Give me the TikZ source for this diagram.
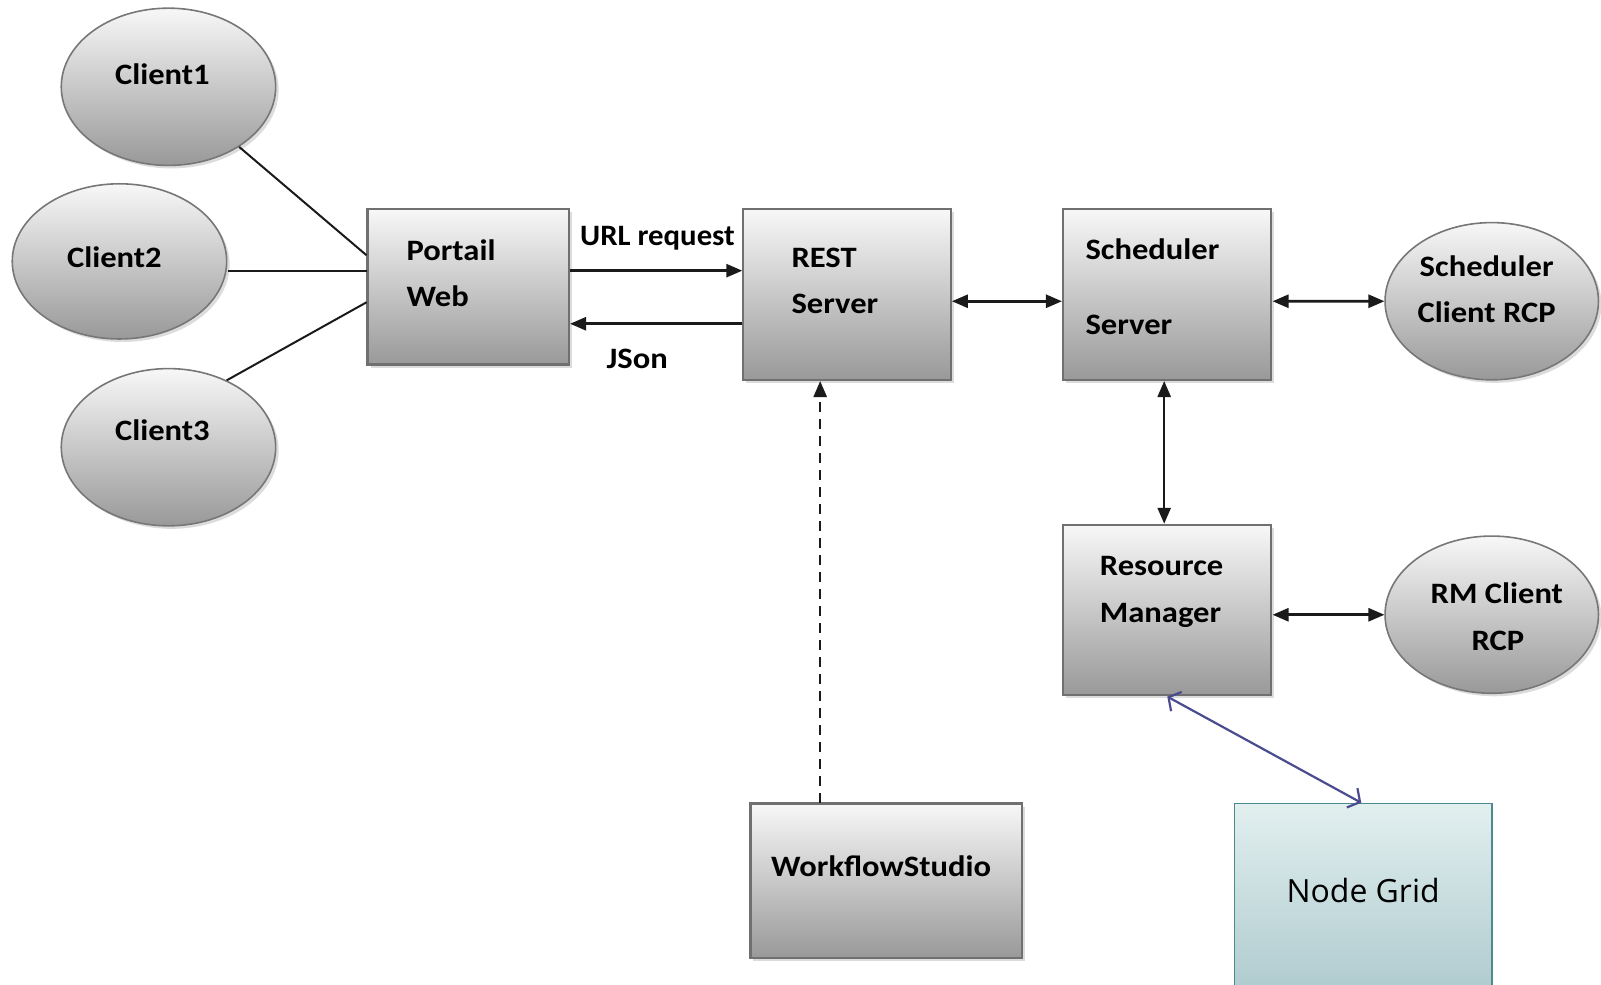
\documentclass[tikz,border=0pt]{standalone}
\usepackage{fontspec}
\setmainfont[FakeStretch=1.1]{Carlito}
\newfontfamily\urlfont[FakeStretch=1.04]{Carlito}
\newfontfamily\ngfont{Open Sans}
\usetikzlibrary{shapes.geometric,arrows.meta,shadows}
\definecolor{boxline}{HTML}{707070}
\definecolor{ellline}{HTML}{777777}
\definecolor{linecol}{HTML}{1A1A1A}
\definecolor{gridline}{HTML}{4A8A90}
\definecolor{gridtop}{HTML}{E2EFEF}
\definecolor{gridbot}{HTML}{A8C6CA}
\definecolor{bluecol}{HTML}{4B4B8F}
\begin{document}
\begin{tikzpicture}[x=1pt,y=-1pt,scale=1.02105,every node/.style={transform shape},
  shade3d/.style={top color=white!97!black, bottom color=black!40,
    drop shadow={opacity=0.28, shadow xshift=3pt, shadow yshift=-3pt}},
  box/.style={rectangle, draw=boxline, line width=2.2pt, inner sep=0pt, shade3d},
  oval/.style={ellipse, draw=ellline, line width=1.6pt, inner sep=0pt,
    minimum width=210pt, minimum height=154pt, shade3d},
  gridbox/.style={rectangle, draw=gridline, line width=1.8pt, inner sep=0pt,
    top color=gridtop, bottom color=gridbot},
  lbl/.style={font=\fontsize{29}{35}\selectfont\bfseries, text=black, inner sep=0pt},
  conn/.style={draw=linecol, line width=2.6pt},
  arr/.style={conn, -{Triangle[length=16pt,width=13pt]}},
  darr/.style={conn, {Triangle[length=16pt,width=13pt]}-{Triangle[length=16pt,width=13pt]}},
  bluearr/.style={draw=bluecol, line width=2.2pt,
    {Straight Barb[length=9pt,width=22pt,line width=2.2pt]}-{Straight Barb[length=9pt,width=22pt,line width=2.2pt]}}
]
\useasboundingbox (0,0) rectangle (1568,964.7);

% clients
\node[oval] (c1) at (165,85) {};
\node[oval, minimum height=152pt] (c2) at (117,256) {};
\node[oval] (c3) at (165,438) {};
\node[lbl, anchor=base] (c1t) at (159,83) {Client1};
\node[lbl, anchor=base] (c2t) at (112,262) {Client2};
\node[lbl, anchor=base] (c3t) at (159,431) {Client3};

% boxes
\node[box, minimum width=197pt, minimum height=152pt] (pw) at (458.5,281) {};
\node[box, minimum width=203pt, minimum height=167pt] (rest) at (829.5,288.5) {};
\node[box, minimum width=204pt, minimum height=167pt] (sched) at (1143,288.5) {};
\node[box, minimum width=204pt, minimum height=167pt] (rm) at (1143,597.5) {};
\node[box, minimum width=266pt, minimum height=151pt] (wf) at (868,862.5) {};
\node[gridbox, minimum width=252pt, minimum height=210pt] (ng) at (1335,892) {};

% right ovals
\node[oval, minimum width=209pt] (sc) at (1461,295) {};
\node[oval, minimum width=209pt] (rmc) at (1461,602) {};

% box texts
\node[lbl, anchor=base west] (pwt1) at (398,255) {Portail};
\node[lbl, anchor=base west] (pwt2) at (398,300) {Web};
\node[lbl, anchor=base west] (rt1) at (775,262) {REST};
\node[lbl, anchor=base west] (rt2) at (775,307) {Server};
\node[lbl, anchor=base west] (st1) at (1063,254) {Scheduler};
\node[lbl, anchor=base west] (st2) at (1063,328) {Server};
\node[lbl, anchor=base] (sct1) at (1456,271) {Scheduler};
\node[lbl, anchor=base] (sct2) at (1456,316) {Client RCP};
\node[lbl, anchor=base west] (rmt1) at (1077,564) {Resource};
\node[lbl, anchor=base west] (rmt2) at (1077,610) {Manager};
\node[lbl, anchor=base] (rmct1) at (1466,591) {RM Client};
\node[lbl, anchor=base] (rmct2) at (1467,637) {RCP};
\node[lbl, anchor=base] (wft) at (863,858) {WorkflowStudio};
\node[font=\ngfont\fontsize{31.3}{38}\selectfont, inner sep=0pt, anchor=base] (ngt) at (1335,884) {Node Grid};

% client links
\coordinate (pin1) at (pw.west |- 0,250);
\coordinate (pin2) at (pw.west |- 0,265);
\coordinate (pin3) at (pw.west |- 0,296);
\draw[conn, line width=2pt] (c1) -- (pin1);
\draw[conn, line width=2pt] (c2.east |- pin2) -- (pin2);
\draw[conn, line width=2pt] (c3.49) -- (pin3);

% URL request / JSon
\coordinate (u1) at ([yshift=16pt]pw.east);
\coordinate (j1) at ([yshift=-36pt]pw.east);
\draw[arr] (u1) -- (u1 -| rest.west);
\draw[arr] (j1 -| rest.west) -- (j1);
\node[lbl, font=\urlfont\fontsize{29}{35}\selectfont\bfseries, anchor=base west] (urlt) at (568,240) {URL request};
\node[lbl, anchor=base west] (jst) at (594,361) {JSon};

% server links
\draw[darr] ([yshift=-6.5pt]rest.east) -- ([yshift=-6.5pt]sched.west);
\draw[darr] ([yshift=-6.5pt]sched.east) -- (sc.west);
\draw[darr] ([xshift=-3pt]sched.south) -- ([xshift=-3pt]rm.north);
\draw[darr] ([yshift=-4.5pt]rm.east) -- ([yshift=-4.5pt]rm.east -| rmc.west);

% workflow dashed
\coordinate (wfo) at ([xshift=-65pt]wf.north);
\draw[arr, dash pattern=on 10pt off 7pt] (wfo) -- (wfo |- rest.south);

% node grid link
\draw[bluearr] (rm.south) -- ([xshift=-2pt]ng.north);
\end{tikzpicture}
\end{document}
